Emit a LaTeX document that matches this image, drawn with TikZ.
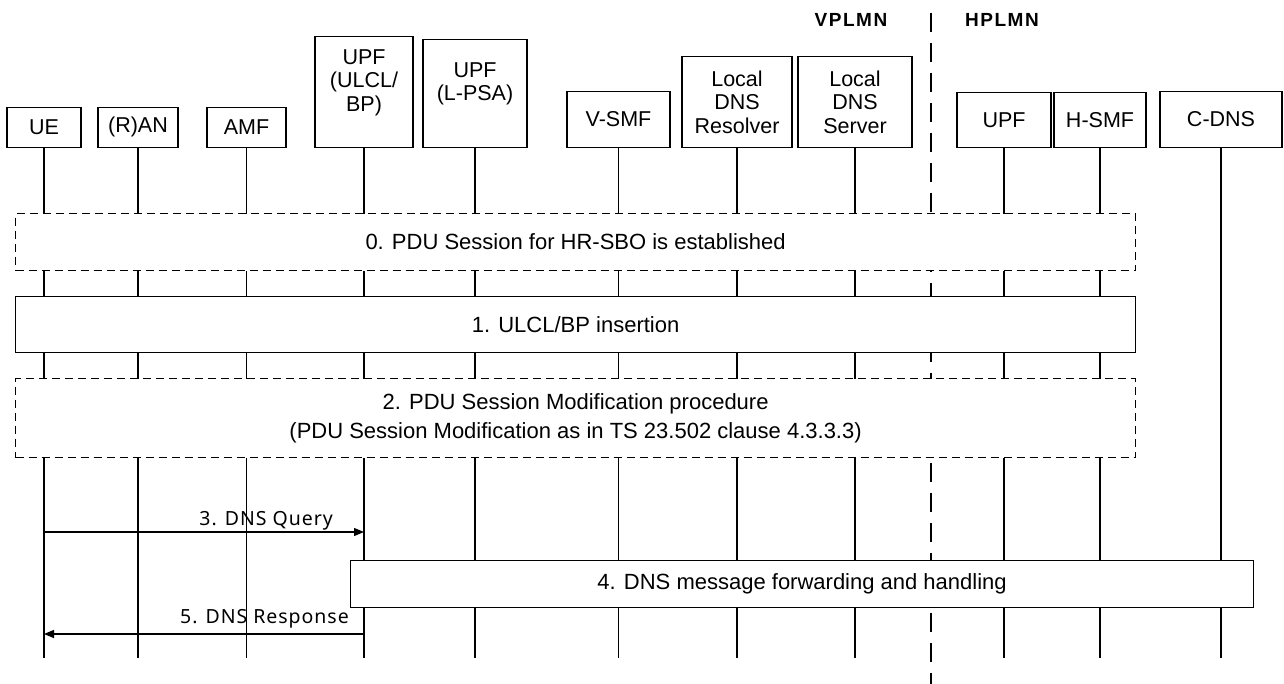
\documentclass[tikz,border=0pt]{standalone}
\usepackage{fontspec}
\setmainfont{Liberation Sans}
\newfontfamily\lblfont[LetterSpace=5]{Noto Sans}
\newfontfamily\plmnfont[LetterSpace=8]{Liberation Sans}
\usetikzlibrary{arrows.meta}
\begin{document}
\begin{tikzpicture}[x=1pt,y=-1pt,
  ent/.style={draw, fill=white, line width=1.2pt, align=center, inner sep=0pt,
              font=\fontsize{21.5}{23.5}\selectfont, anchor=south},
  life/.style={line width=1.2pt},
  sepline/.style={line width=2.4pt, dash pattern=on 19pt off 11pt},
  stepdash/.style={draw, fill=white, line width=1.2pt, dash pattern=on 8pt off 5pt,
              align=center, inner sep=0pt, font=\fontsize{22}{29}\selectfont},
  stepsolid/.style={draw, fill=white, line width=1.2pt,
              align=center, inner sep=0pt, font=\fontsize{22}{26}\selectfont},
  msg/.style={line width=1.2pt, -{Triangle[length=10pt,width=8pt]}},
  msglbl/.style={font=\lblfont\fontsize{19.5}{22}\selectfont, inner sep=0pt},
  plmn/.style={font=\plmnfont\bfseries\fontsize{19}{22}\selectfont, inner sep=0pt}
]
\useasboundingbox (0,0) rectangle (1284,684);

% entities
\node[ent, minimum width=74, minimum height=40]  (ue)   at (44,148)   {UE};
\node[ent, minimum width=80, minimum height=40]  (ran)  at (138,148)  {(R)AN};
\node[ent, minimum width=79, minimum height=40]  (amf)  at (246.5,148){AMF};
\node[ent, minimum width=98, minimum height=111] (upfa) at (364,148)  {UPF\\(ULCL/\\BP)\\\mbox{}};
\node[ent, minimum width=104, minimum height=108](upfb) at (475,148)  {UPF\\(L-PSA)\\\mbox{}};
\node[ent, minimum width=103, minimum height=56] (vsmf) at (618.5,148){V-SMF};
\node[ent, minimum width=110, minimum height=91] (ldr)  at (737,148)  {Local\\DNS\\Resolver};
\node[ent, minimum width=114, minimum height=91] (lds)  at (855,148)  {Local\\DNS\\Server};
\node[ent, minimum width=94, minimum height=55]  (hupf) at (1004,148) {UPF};
\node[ent, minimum width=92, minimum height=55]  (hsmf) at (1100,148) {H-SMF};
\node[ent, minimum width=122, minimum height=56] (cdns) at (1221,148) {C-DNS};

% PLMN labels
\node[plmn] (vp) at (851,20) {VPLMN};
\node[plmn] (hp) at (1002,20) {HPLMN};

% lifelines
\coordinate (bot) at (0,658);
\foreach \n in {ue,ran,amf,upfa,upfb,vsmf,ldr,lds,hupf,hsmf,cdns}
  \draw[life] (\n.south) -- (\n.south |- bot);

% PLMN separator
\coordinate (septop) at (931,13);
\coordinate (sepbot) at (931,684);
\draw[sepline] (septop) -- (sepbot);

% steps
\node[stepdash, minimum width=1120, minimum height=57, anchor=north west] (s0) at (15,213)
  {0. PDU Session for HR-SBO is established};
\node[stepsolid, minimum width=1120, minimum height=56, anchor=north west] (s1) at (15,296)
  {1. ULCL/BP insertion};
\node[stepdash, minimum width=1120, minimum height=79, anchor=north west] (s2) at (15,378)
  {2. PDU Session Modification procedure\\(PDU Session Modification as in TS 23.502 clause 4.3.3.3)};
\node[stepsolid, minimum width=903, minimum height=47, anchor=north west] (s4) at (350,560)
  {4. DNS message forwarding and handling};

% messages
\coordinate (y3) at (0,532);
\coordinate (y5) at (0,634);
\draw[msg] (ue.south |- y3) -- (upfa.south |- y3);
\node[msglbl, anchor=base east] (m3) at (333,525) {3. DNS Query};
\draw[msg] (upfa.south |- y5) -- (ue.south |- y5);
\node[msglbl, anchor=base east] (m5) at (349,623) {5. DNS Response};
\end{tikzpicture}
\end{document}
